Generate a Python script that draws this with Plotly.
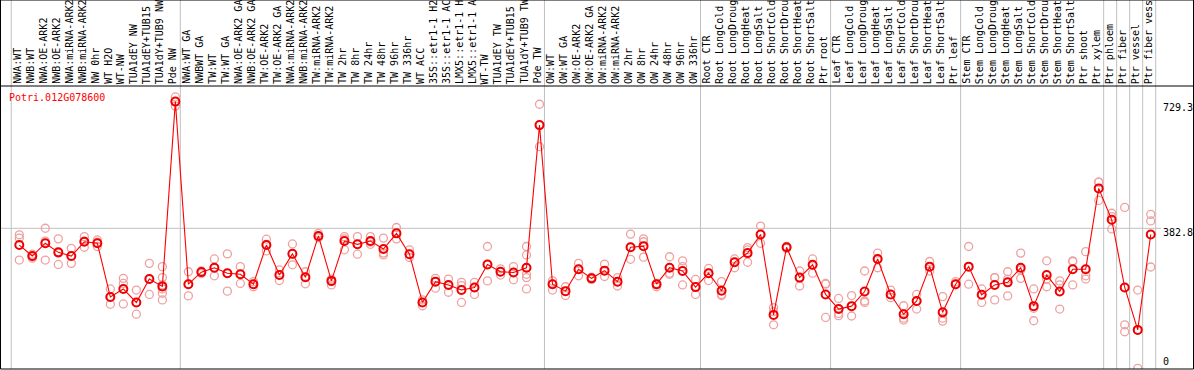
import plotly.graph_objects as go

gene = "Potri.012G078600"

samples = [
    "NWA:WT", "NWB:WT", "NWA:OE-ARK2", "NWB:OE-ARK2", "NWA:miRNA-ARK2", "NWB:miRNA-ARK2",
    "NW 0hr", "WT H2O", "WT-NW", "TUA1dEY NW", "TUA1dEY+TUB15 NW", "TUA1dY+TUB9 NW", "Pde NW",
    "NWA:WT GA", "NWBWT GA", "TW:WT", "TW:WT GA", "NWA:OE-ARK2 GA", "NWB:OE-ARK2 GA",
    "TW:OE-ARK2", "TW:OE-ARK2 GA", "NWA:miRNA-ARK2 GA", "NWB:miRNA-ARK2 GA", "TW:miRNA-ARK2",
    "TW:miRNA-ARK2 GA", "TW 2hr", "TW 8hr", "TW 24hr", "TW 48hr", "TW 96hr", "TW 336hr",
    "WT ACC", "35S::etr1-1 H2O", "35S::etr1-1 ACC", "LMX5::etr1-1 H2O", "LMX5::etr1-1 ACC",
    "WT-TW", "TUA1dEY TW", "TUA1dEY+TUB15 TW", "TUA1dY+TUB9 TW", "Pde TW",
    "OW:WT", "OW:WT GA", "OW:OE-ARK2", "OW:OE-ARK2 GA", "OW:miRNA-ARK2", "OW:miRNA-ARK2 GA",
    "OW 2hr", "OW 8hr", "OW 24hr", "OW 48hr", "OW 96hr", "OW 336hr",
    "Root CTR", "Root LongCold", "Root LongDrought", "Root LongHeat", "Root LongSalt",
    "Root ShortCold", "Root ShortDrought", "Root ShortHeat", "Root ShortSalt", "Ptr root",
    "Leaf CTR", "Leaf LongCold", "Leaf LongDrought", "Leaf LongHeat", "Leaf LongSalt",
    "Leaf ShortCold", "Leaf ShortDrought", "Leaf ShortHeat", "Leaf ShortSalt", "Ptr leaf",
    "Stem CTR", "Stem LongCold", "Stem LongDrought", "Stem LongHeat", "Stem LongSalt",
    "Stem ShortCold", "Stem ShortDrought", "Stem ShortHeat", "Stem ShortSalt", "Ptr shoot",
    "Ptr xylem", "Ptr phloem", "Ptr fiber", "Ptr vessel", "Ptr fiber vessel",
]

mean_values = [
    337, 307, 342, 317, 307, 346, 342, 195, 217, 180, 244, 224, 729.3,
    230, 263, 275, 260, 257, 230, 337, 255, 313, 249, 362, 239, 348, 339, 348, 326, 369, 312,
    180, 237, 228, 214, 221, 284, 264, 262, 275, 665,
    230, 211, 271, 246, 267, 237, 331, 334, 230, 275, 266, 222,
    260, 212, 290, 315, 366, 146, 331, 248, 283, 202,
    162, 170, 210, 299, 202, 148, 184, 278, 153, 230,
    278, 201, 228, 235, 275, 170, 255, 210, 271, 271,
    492, 406, 221, 105, 366,
]

replicates = [
    [365, 356, 296], [312, 305, 301], [383, 348, 296], [354, 315, 284], [328, 307, 287],
    [360, 348, 331], [351, 345, 333], [217, 195, 175], [246, 232, 176], [214, 180, 148],
    [287, 244, 202], [278, 248, 228, 217, 205, 187], [742, 729, 717],
    [264, 230, 198], [266, 263, 259], [299, 275, 253], [313, 260, 211], [278, 257, 232],
    [237, 230, 223], [353, 339, 321], [269, 255, 240], [340, 313, 283], [264, 249, 231],
    [369, 362, 357], [244, 237, 228], [360, 354, 324], [360, 339, 312], [360, 345, 339],
    [356, 315, 310], [385, 369, 354], [324, 312, 303],
    [187, 180, 171], [246, 237, 219], [244, 228, 208], [235, 226, 180], [235, 221, 202],
    [333, 284, 239], [272, 264, 255], [278, 262, 242], [333, 310, 275, 257, 248, 217],
    [722, 665, 606],
    [239, 230, 214], [223, 211, 199], [287, 271, 253], [249, 246, 243], [285, 267, 251],
    [248, 237, 225], [367, 331, 298], [354, 346, 304], [232, 228, 223], [305, 260, 257],
    [294, 278, 228], [243, 222, 202],
    [273, 260, 240], [237, 202, 199], [299, 290, 275], [330, 324, 290], [389, 366, 342],
    [166, 155, 119], [333, 331, 328], [266, 248, 225], [299, 283, 260], [232, 230, 139],
    [191, 150, 144], [199, 170, 143], [266, 184, 180], [315, 299, 275], [214, 202, 193],
    [171, 137, 132], [202, 184, 162], [292, 278, 266], [196, 137, 129], [237, 230, 228],
    [333, 278, 230], [217, 202, 180], [248, 248, 187], [264, 244, 198], [315, 269, 246],
    [217, 164, 130], [294, 244, 223], [239, 228, 162], [294, 292, 228], [319, 253, 244],
    [509, 509, 459], [424, 415, 381], [440, 119, 100], [214, 105, 0], [421, 403, 277],
]

# indices after which a separator line is drawn (-1 = before first)
group_breaks = [-1, 12, 40, 52, 62, 72, 83, 84, 85, 86, 87]
y_ticks = [0, 382.8, 729.3]
y_tick_text = ["0", "382.8", "729.3"]

n = len(samples)
xs = list(range(n))

W, H = 1194, 370
TOP, BOT = 86, 1
plot_h = H - TOP - BOT
top_paper = (H - BOT) / plot_h

rep_x, rep_y = [], []
for i, reps in enumerate(replicates):
    for v in reps:
        rep_x.append(i)
        rep_y.append(v)

fig = go.Figure()
fig.add_trace(go.Scatter(
    x=rep_x, y=rep_y, mode="markers",
    marker=dict(symbol="circle-open", size=8, color="#f0a0a0", line=dict(width=1.3)),
    hoverinfo="skip", showlegend=False,
))
fig.add_trace(go.Scatter(
    x=xs, y=mean_values, mode="lines+markers",
    line=dict(color="#ff0000", width=1.1),
    marker=dict(symbol="circle-open", size=8, color="#ee0000", line=dict(width=2)),
    showlegend=False,
))

shapes = []
for b in group_breaks:
    shapes.append(dict(type="line", xref="x", yref="paper", x0=b + 0.38, x1=b + 0.38,
                       y0=0, y1=top_paper, line=dict(color="#c0c0c0", width=1), layer="below"))
shapes.append(dict(type="line", xref="paper", yref="y", x0=0, x1=1161 / W,
                   y0=y_ticks[1], y1=y_ticks[1], line=dict(color="#c0c0c0", width=1), layer="below"))
# border and header divider
shapes.append(dict(type="rect", xref="paper", yref="paper", x0=0.5 / W, x1=(W - 0.5) / W,
                   y0=0, y1=top_paper, line=dict(color="black", width=1)))
shapes.append(dict(type="line", xref="paper", yref="paper", x0=0, x1=1, y0=1, y1=1,
                   line=dict(color="black", width=1)))

mono = "DejaVu Sans Mono"
annotations = []
for i, s in enumerate(samples):
    annotations.append(dict(x=i, y=1, xref="x", yref="paper", text=s, textangle=-90,
                            xanchor="center", yanchor="bottom", showarrow=False,
                            xshift=-2.5, yshift=1, borderpad=0,
                            font=dict(family=mono, size=10, color="black")))
shifts = [6.5, -4, -6]
for v, t, sh in zip(y_ticks, y_tick_text, shifts):
    annotations.append(dict(x=1162 / W, y=v, xref="paper", yref="y", text=t,
                            xanchor="left", yanchor="middle", showarrow=False, yshift=sh,
                            borderpad=0, font=dict(family=mono, size=10, color="black")))
annotations.append(dict(x=8 / W, y=(H - BOT - 97.3) / plot_h, xref="paper", yref="paper",
                        text=gene, xanchor="left", yanchor="middle", showarrow=False,
                        borderpad=0, font=dict(family=mono, size=10, color="#ff0000")))

x_px0, x_step = 19.3, 13.005
x0 = -x_px0 / x_step
x1 = x0 + W / x_step
y_px0, y_scale = 368.3, 0.3657
y_lo = (y_px0 - (H - BOT)) / y_scale
y_hi = (y_px0 - TOP) / y_scale

fig.update_layout(
    width=W, height=H,
    margin=dict(l=0, r=0, t=TOP, b=BOT, pad=0),
    paper_bgcolor="white", plot_bgcolor="white",
    xaxis=dict(range=[x0, x1], visible=False, fixedrange=True),
    yaxis=dict(range=[y_lo, y_hi], visible=False, fixedrange=True),
    shapes=shapes, annotations=annotations,
)

fig.write_html(
    "out.html",
    config={"displayModeBar": False},
    post_script="document.body.style.margin='0';document.body.style.overflow='hidden';",
)
